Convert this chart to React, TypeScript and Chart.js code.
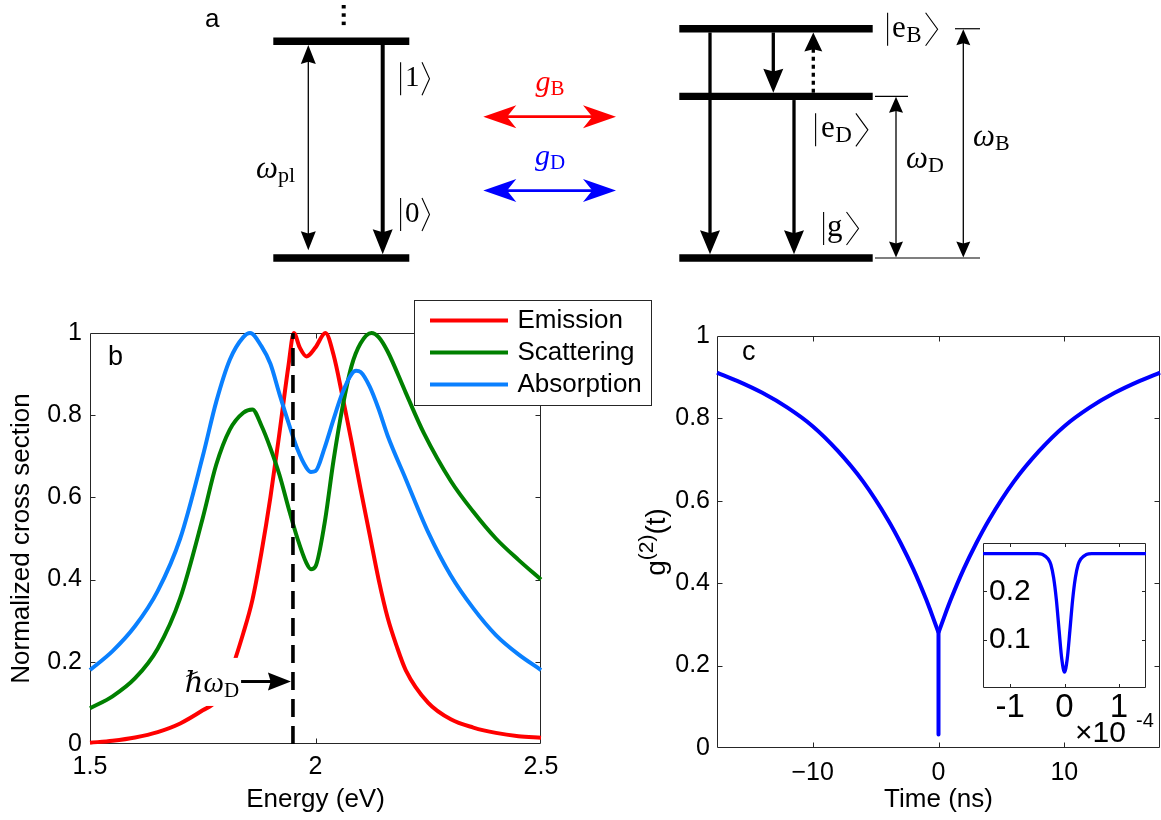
import React, { useEffect, useRef } from 'react';
import { Chart, registerables } from 'chart.js';

Chart.register(...registerables);

const SANS = '"Liberation Sans", Arial, Helvetica, sans-serif';
const SERIF = '"Liberation Serif", "DejaVu Serif", "Times New Roman", serif';
const FRAME = '#262626';

// ---------------- Panel a : level scheme (energies in units of ħω_pl) ----------------
const plasmonLevelEnergy = [0, 1]; // |0>, |1>
const emitterLevelEnergy = [0, 0.746, 1.058]; // |g>, |e_D>, |e_B>

// ---------------- Panel b : normalized cross sections ----------------
const seriesNames = ['Emission', 'Scattering', 'Absorption'];
const seriesColors = ['#ff0000', '#008000', '#0a80ff'];
const energyTicks = [1.5, 2, 2.5];
const crossSectionTicks = [0, 0.2, 0.4, 0.6, 0.8, 1];
const emissionEnergy = [1.5, 1.55, 1.6, 1.65, 1.7, 1.75, 1.78, 1.81, 1.84, 1.86, 1.88, 1.9, 1.92, 1.94, 1.952, 1.965, 1.98, 2.0, 2.022, 2.04, 2.06, 2.08, 2.1, 2.12, 2.14, 2.16, 2.18, 2.2, 2.25, 2.3, 2.35, 2.4, 2.45, 2.5];
const emissionValue = [0.003, 0.008, 0.016, 0.029, 0.05, 0.082, 0.105, 0.17, 0.27, 0.35, 0.465, 0.6, 0.756, 0.92, 1.0, 0.965, 0.943, 0.965, 1.0, 0.947, 0.845, 0.735, 0.62, 0.51, 0.4, 0.307, 0.238, 0.18, 0.1, 0.06, 0.04, 0.027, 0.019, 0.015];
const scatteringEnergy = [1.5, 1.55, 1.6, 1.65, 1.7, 1.75, 1.78, 1.81, 1.84, 1.86, 1.88, 1.9, 1.92, 1.94, 1.96, 1.98, 1.99, 2.0, 2.02, 2.04, 2.06, 2.08, 2.1, 2.124, 2.14, 2.16, 2.2, 2.24, 2.3, 2.35, 2.4, 2.45, 2.5];
const scatteringValue = [0.087, 0.116, 0.16, 0.232, 0.355, 0.55, 0.68, 0.765, 0.806, 0.814, 0.775, 0.72, 0.655, 0.575, 0.5, 0.44, 0.425, 0.432, 0.536, 0.69, 0.82, 0.92, 0.975, 1.0, 0.99, 0.955, 0.855, 0.757, 0.64, 0.565, 0.5, 0.448, 0.4];
const absorptionEnergy = [1.5, 1.55, 1.6, 1.65, 1.7, 1.75, 1.78, 1.81, 1.84, 1.855, 1.88, 1.9, 1.92, 1.94, 1.96, 1.98, 1.99, 2.0, 2.02, 2.04, 2.06, 2.08, 2.09, 2.1, 2.12, 2.14, 2.16, 2.2, 2.25, 2.3, 2.35, 2.4, 2.45, 2.5];
const absorptionValue = [0.18, 0.226, 0.287, 0.372, 0.5, 0.7, 0.833, 0.935, 0.99, 1.0, 0.968, 0.925, 0.852, 0.782, 0.717, 0.672, 0.662, 0.664, 0.72, 0.79, 0.855, 0.9, 0.908, 0.905, 0.87, 0.815, 0.75, 0.645, 0.515, 0.41, 0.33, 0.265, 0.218, 0.18];
const darkModeEnergy = 1.95; // ħω_D
const darkModeArrowLevel = 0.152;

// ---------------- Panel c : g2(t) ----------------
const timeTicks = [-10, 0, 10];
const g2Ticks = [0, 0.2, 0.4, 0.6, 0.8, 1];
const timeNegative = [-17.6, -16, -14, -12, -10, -8, -6, -4, -3, -2, -1, -0.5, 0];
const g2Negative = [0.911, 0.891, 0.862, 0.826, 0.781, 0.721, 0.647, 0.553, 0.497, 0.434, 0.362, 0.322, 0.28];
const timePositive = [0, 0.5, 1, 2, 3, 4, 6, 8, 10, 12, 14, 16, 17.6];
const g2Positive = [0.28, 0.322, 0.362, 0.434, 0.497, 0.553, 0.647, 0.721, 0.781, 0.826, 0.862, 0.891, 0.911];
const g2AtZero = [0.28, 0.033];
// inset (time in units of 1e-4 ns)
const insetTime = [-1.5, -0.8, -0.5, -0.4, -0.3, -0.25, -0.2, -0.15, -0.1, -0.05, 0, 0.05, 0.1, 0.15, 0.2, 0.25, 0.3, 0.4, 0.5, 0.8, 1.5];
const insetG2 = [0.278, 0.278, 0.278, 0.276, 0.267, 0.255, 0.228, 0.183, 0.12, 0.06, 0.033, 0.06, 0.12, 0.183, 0.228, 0.255, 0.267, 0.276, 0.278, 0.278, 0.278];
const insetTimeTicks = [-1, 0, 1];
const insetG2Ticks = [0.1, 0.2];

const zip = (xs: number[], ys: number[]) => xs.map((x, i) => ({ x, y: ys[i] }));

// ---------------- drawing helpers ----------------
type Run = { t: string; font: string; dy?: number; color?: string; gap?: number };

function measureRuns(ctx: CanvasRenderingContext2D, runs: Run[]) {
  let w = 0;
  for (const r of runs) {
    ctx.font = r.font;
    w += ctx.measureText(r.t).width + (r.gap || 0);
  }
  return w;
}
function drawRuns(ctx: CanvasRenderingContext2D, runs: Run[], x: number, y: number, align = 'left') {
  const w = measureRuns(ctx, runs);
  let cx = align === 'left' ? x : align === 'center' ? x - w / 2 : x - w;
  ctx.textAlign = 'left';
  ctx.textBaseline = 'alphabetic';
  for (const r of runs) {
    ctx.font = r.font;
    ctx.fillStyle = r.color || '#000';
    ctx.fillText(r.t, cx, y + (r.dy || 0));
    cx += ctx.measureText(r.t).width + (r.gap || 0);
  }
  return w;
}
function drawKet(ctx: CanvasRenderingContext2D, runs: Run[], x: number, baseline: number, padL = 5, padR = 2.5, aw = 7.5) {
  const top = baseline - 24, bottom = baseline + 9;
  ctx.strokeStyle = '#000';
  ctx.lineWidth = 1.1;
  ctx.beginPath();
  ctx.moveTo(x + 0.6, top);
  ctx.lineTo(x + 0.6, bottom);
  ctx.stroke();
  const w = drawRuns(ctx, runs, x + padL, baseline, 'left');
  const ax = x + padL + w + padR;
  ctx.beginPath();
  ctx.moveTo(ax, top);
  ctx.lineTo(ax + aw, (top + bottom) / 2);
  ctx.lineTo(ax, bottom);
  ctx.stroke();
}
type ArrowOpt = { w: number; len: number; hw: number; color?: string; both?: boolean; dash?: number[]; notch?: number };
function head(ctx: CanvasRenderingContext2D, tx: number, ty: number, ux: number, uy: number, o: ArrowOpt) {
  const nx = -uy, ny = ux;
  const notch = o.notch ?? 0.12;
  const bx = tx - ux * o.len, by = ty - uy * o.len;
  const mx = tx - ux * o.len * (1 - notch), my = ty - uy * o.len * (1 - notch);
  ctx.fillStyle = o.color || '#000';
  ctx.beginPath();
  ctx.moveTo(tx, ty);
  ctx.lineTo(bx + (nx * o.hw) / 2, by + (ny * o.hw) / 2);
  ctx.lineTo(mx, my);
  ctx.lineTo(bx - (nx * o.hw) / 2, by - (ny * o.hw) / 2);
  ctx.closePath();
  ctx.fill();
}
function drawArrow(ctx: CanvasRenderingContext2D, x1: number, y1: number, x2: number, y2: number, o: ArrowOpt) {
  const dx = x2 - x1, dy = y2 - y1, L = Math.hypot(dx, dy);
  const ux = dx / L, uy = dy / L;
  const back = o.len * (1 - (o.notch ?? 0.12)) - 1;
  const sx = o.both ? x1 + ux * back : x1, sy = o.both ? y1 + uy * back : y1;
  const ex = x2 - ux * back, ey = y2 - uy * back;
  ctx.strokeStyle = o.color || '#000';
  ctx.lineWidth = o.w;
  ctx.lineCap = 'butt';
  ctx.setLineDash(o.dash || []);
  ctx.beginPath();
  ctx.moveTo(sx, sy);
  ctx.lineTo(ex, ey);
  ctx.stroke();
  ctx.setLineDash([]);
  head(ctx, x2, y2, ux, uy, o);
  if (o.both) head(ctx, x1, y1, -ux, -uy, o);
}

// frame with inward ticks on all four sides (Matlab "box on")
const frameTicksPlugin = {
  id: 'frameTicks',
  beforeDatasetsDraw(chart: any, _a: any, opts: any) {
    const { ctx, chartArea: a, scales } = chart;
    ctx.save();
    ctx.strokeStyle = FRAME;
    ctx.lineWidth = 1;
    const L = Math.round(a.left) + 0.5, R = Math.round(a.right) - 0.5;
    const T = Math.round(a.top) + 0.5, B = Math.round(a.bottom) - 0.5;
    ctx.beginPath();
    ctx.rect(L, T, R - L, B - T);
    for (const v of opts.xTicks || []) {
      const p = Math.round(scales.x.getPixelForValue(v)) + 0.5;
      if (p <= L + 1 || p >= R - 1) continue;
      ctx.moveTo(p, B); ctx.lineTo(p, B - opts.len);
      ctx.moveTo(p, T); ctx.lineTo(p, T + opts.len);
    }
    for (const v of opts.yTicks || []) {
      const p = Math.round(scales.y.getPixelForValue(v)) + 0.5;
      if (p <= T + 1 || p >= B - 1) continue;
      ctx.moveTo(L, p); ctx.lineTo(L + opts.len, p);
      ctx.moveTo(R, p); ctx.lineTo(R - opts.len, p);
    }
    ctx.stroke();
    ctx.restore();
  },
};

const fixedTicks = (vals: number[]) => (s: any) => {
  s.ticks = vals.map((v) => ({ value: v }));
};
const fmtDec = (v: number) => (v === 0 ? '0' : v === 1 ? '1' : v.toFixed(1));
const noGrid = { display: false, drawTicks: false };

// ---------------- Panel a config ----------------
function makeDiagram() {
  const [P0, P1] = plasmonLevelEnergy;
  const [Eg, EeD, EeB] = emitterLevelEnergy;
  const PL = [273.3, 409.3];
  const EM = [679.3, 872.7];
  const seg = (x0: number, x1: number, e: number, w: number) => ({
    data: [{ x: x0, y: e }, { x: x1, y: e }],
    borderColor: '#000',
    borderWidth: w,
    pointRadius: 0,
    borderCapStyle: 'butt',
  });
  const datasets = [
    ...plasmonLevelEnergy.map((e) => seg(PL[0], PL[1], e, 7.4)),
    ...emitterLevelEnergy.map((e) => seg(EM[0], EM[1], e, 7.4)),
    seg(875, 908, EeD, 1.2),
    seg(875, 980, Eg, 1.2),
    seg(955, 980, EeB, 1.2),
  ];
  const plugin = {
    id: 'diagram',
    afterDatasetsDraw(chart: any) {
      const { ctx } = chart;
      const X = (v: number) => chart.scales.x.getPixelForValue(v);
      const Y = (v: number) => chart.scales.y.getPixelForValue(v);
      ctx.save();
      const half = 3.7;
      const vArrows = [
        { x: 308.3, from: P1, to: P0, ins: [half, half + 4], o: { w: 1.3, len: 19, hw: 15, both: true } },
        { x: 382.7, from: P1, to: P0, ins: [half, half], o: { w: 4, len: 25, hw: 20 } },
        { x: 710, from: EeB, to: Eg, ins: [half, half], o: { w: 3.3, len: 24, hw: 20 } },
        { x: 773.3, from: EeB, to: EeD, ins: [half, half], o: { w: 3.3, len: 24, hw: 20 } },
        { x: 794, from: EeD, to: Eg, ins: [half, half], o: { w: 3.3, len: 24, hw: 20 } },
        { x: 813.3, from: EeD, to: EeB, ins: [half, half], o: { w: 3.3, len: 19, hw: 18, dash: [4, 4] } },
        { x: 896, from: EeD, to: Eg, ins: [0.5, 0.5], o: { w: 1.3, len: 16, hw: 14, both: true } },
        { x: 963.3, from: EeB, to: Eg, ins: [0.5, 0.5], o: { w: 1.3, len: 16, hw: 14, both: true } },
      ];
      for (const a of vArrows) {
        const y1 = Y(a.from), y2 = Y(a.to);
        const d = Math.sign(y2 - y1);
        drawArrow(ctx, X(a.x), y1 + d * a.ins[0], X(a.x), y2 - d * a.ins[1], a.o as ArrowOpt);
      }
      // coupling arrows
      const rows = [
        { e: 0.652, color: '#ff0000', sub: 'B' },
        { e: 0.311, color: '#0000ff', sub: 'D' },
      ];
      for (const r of rows) {
        const yy = Y(r.e);
        drawArrow(ctx, X(483.3), yy, X(616), yy, { w: 2.8, len: 33, hw: 23, both: true, color: r.color, notch: 0.28 });
        drawRuns(ctx, [
          { t: 'g', font: `italic 30px ${SERIF}`, color: r.color },
          { t: r.sub, font: `21px ${SERIF}`, color: r.color, dy: 4 },
        ], X(550), yy - 26, 'center');
      }
      // ω labels
      drawRuns(ctx, [
        { t: 'ω', font: `italic 31px ${SERIF}` },
        { t: 'pl', font: `22px ${SERIF}`, dy: 4 },
      ], X(256), 178, 'left');
      drawRuns(ctx, [
        { t: 'ω', font: `italic 31px ${SERIF}` },
        { t: 'D', font: `22px ${SERIF}`, dy: 4 },
      ], X(906), 168, 'left');
      drawRuns(ctx, [
        { t: 'ω', font: `italic 31px ${SERIF}` },
        { t: 'B', font: `22px ${SERIF}`, dy: 4 },
      ], X(973), 146, 'left');
      // kets
      const k = `29px ${SERIF}`;
      const kb = `31px ${SERIF}`;
      const ks = `23px ${SERIF}`;
      drawKet(ctx, [{ t: '1', font: k }], X(400), Y(P1) + 45);
      drawKet(ctx, [{ t: '0', font: k }], X(400), Y(P0) - 36);
      drawKet(ctx, [{ t: 'e', font: kb, gap: 0.5 }, { t: 'B', font: ks, dy: 5 }], X(887), Y(EeB) + 8, 5, 4, 12);
      drawKet(ctx, [{ t: 'e', font: kb, gap: 0.5 }, { t: 'D', font: ks, dy: 5 }], X(815), Y(EeD) + 41, 6, 4, 12);
      drawKet(ctx, [{ t: 'g', font: kb }], X(823), Y(Eg) - 22, 4, 4, 12);
      // vertical ellipsis above |1>
      ctx.fillStyle = '#000';
      for (const dyy of [6.7, 15, 23.3]) ctx.fillRect(X(341.7), dyy - 1.7, 4, 3.5);
      // panel label
      ctx.font = `26px ${SANS}`;
      ctx.textBaseline = 'alphabetic';
      ctx.fillText('a', X(205), 26.5);
      ctx.restore();
    },
  };
  return {
    type: 'line',
    data: { datasets },
    options: {
      responsive: false,
      animation: false,
      devicePixelRatio: 1,
      layout: { padding: 0 },
      plugins: { legend: { display: false }, tooltip: { enabled: false } },
      scales: {
        x: { type: 'linear', display: false, min: 0, max: 1161 },
        y: { type: 'linear', display: false, min: -0.1477, max: 1.1906 },
      },
    },
    plugins: [plugin],
  };
}

// ---------------- Panel b config ----------------
function makeSpectra() {
  const curve = (i: number, xs: number[], ys: number[]) => ({
    label: seriesNames[i],
    data: zip(xs, ys),
    borderColor: seriesColors[i],
    borderWidth: 4,
    pointRadius: 0,
    cubicInterpolationMode: 'monotone',
    clip: false,
  });
  const plugin = {
    id: 'spectraDecor',
    afterDatasetsDraw(chart: any) {
      const { ctx, scales } = chart;
      const X = (v: number) => scales.x.getPixelForValue(v);
      const Y = (v: number) => scales.y.getPixelForValue(v);
      ctx.save();
      // white background of the ħω_D annotation
      ctx.fillStyle = '#fff';
      ctx.fillRect(X(1.678), Y(0.2095), X(1.829) - X(1.678), Y(0.0926) - Y(0.2095));
      const ay = Y(darkModeArrowLevel);
      const ax0 = X(1.835);
      drawArrow(ctx, ax0, ay, X(darkModeEnergy) - 2, ay, { w: 3, len: 23, hw: 18 });
      drawRuns(ctx, [
        { t: 'ℏω', font: `italic 29px ${SERIF}` },
        { t: 'D', font: `21px ${SERIF}`, dy: 5 },
      ], ax0 - 2, ay + 10, 'right');
      ctx.restore();
    },
    afterDraw(chart: any) {
      const { ctx, chartArea: a } = chart;
      ctx.save();
      // legend
      const lx = Math.round(a.left + 323.5) + 0.5, ly = Math.round(a.top - 33.5) + 0.5;
      ctx.fillStyle = '#fff';
      ctx.fillRect(lx, ly, 237, 105);
      ctx.strokeStyle = FRAME;
      ctx.lineWidth = 1;
      ctx.strokeRect(lx, ly, 237, 105);
      seriesNames.forEach((name, i) => {
        const yy = ly + 20 + i * 32;
        ctx.strokeStyle = seriesColors[i];
        ctx.lineWidth = 4;
        ctx.beginPath();
        ctx.moveTo(lx + 15.5, yy);
        ctx.lineTo(lx + 93.5, yy);
        ctx.stroke();
        ctx.fillStyle = '#000';
        ctx.font = `26px ${SANS}`;
        ctx.textBaseline = 'middle';
        ctx.textAlign = 'left';
        ctx.fillText(name, lx + 103, yy);
      });
      ctx.font = `27px ${SANS}`;
      ctx.textBaseline = 'alphabetic';
      ctx.fillStyle = '#000';
      ctx.fillText('b', a.left + 18, a.top + 32);
      ctx.restore();
    },
  };
  return {
    type: 'line',
    data: {
      datasets: [
        {
          label: 'marker',
          data: [{ x: darkModeEnergy, y: 0 }, { x: darkModeEnergy, y: 1 }],
          borderColor: '#000',
          borderWidth: 3.6,
          borderDash: [18, 9],
          pointRadius: 0,
          clip: false,
        },
        curve(2, absorptionEnergy, absorptionValue),
        curve(1, scatteringEnergy, scatteringValue),
        curve(0, emissionEnergy, emissionValue),
      ],
    },
    options: {
      responsive: false,
      animation: false,
      devicePixelRatio: 1,
      layout: { padding: { left: 0, right: 119, top: 43, bottom: 0 } },
      plugins: {
        legend: { display: false },
        tooltip: { enabled: false },
        frameTicks: { xTicks: energyTicks, yTicks: crossSectionTicks, len: 5 },
      },
      scales: {
        x: {
          type: 'linear',
          min: 1.5,
          max: 2.5,
          afterBuildTicks: fixedTicks(energyTicks),
          afterFit: (s: any) => { s.height = 76; s.paddingLeft = 0; s.paddingRight = 0; },
          grid: noGrid,
          border: { display: false },
          ticks: { color: '#000', font: { family: SANS, size: 25 }, padding: 8, maxRotation: 0, autoSkip: false, callback: (v: number) => String(v) },
          title: { display: true, text: 'Energy (eV)', color: '#000', font: { family: SANS, size: 26 }, padding: { top: 0, bottom: 5 } },
        },
        y: {
          type: 'linear',
          min: 0,
          max: 1,
          afterBuildTicks: fixedTicks(crossSectionTicks),
          afterFit: (s: any) => { s.width = 90; s.paddingTop = 0; s.paddingBottom = 0; },
          grid: noGrid,
          border: { display: false },
          ticks: { color: '#000', font: { family: SANS, size: 25 }, padding: 8, autoSkip: false, callback: (v: number) => fmtDec(v) },
          title: { display: true, text: 'Normalized cross section', color: '#000', font: { family: SANS, size: 26 }, padding: { top: 6, bottom: 0 } },
        },
      },
    },
    plugins: [frameTicksPlugin, plugin],
  };
}

// ---------------- Panel c config ----------------
function makeG2() {
  const blue = (data: any[], extra: any = {}) => ({
    data,
    borderColor: '#0000ff',
    borderWidth: 4,
    pointRadius: 0,
    clip: false,
    ...extra,
  });
  const plugin = {
    id: 'g2Decor',
    afterDraw(chart: any) {
      const { ctx, chartArea: a } = chart;
      ctx.save();
      ctx.fillStyle = '#000';
      ctx.font = `27px ${SANS}`;
      ctx.textBaseline = 'alphabetic';
      ctx.fillText('c', a.left + 25, a.top + 24);
      ctx.translate(a.left - 60, (a.top + a.bottom) / 2);
      ctx.rotate(-Math.PI / 2);
      drawRuns(ctx, [
        { t: 'g', font: `28px ${SANS}` },
        { t: '(2)', font: `21px ${SANS}`, dy: -12 },
        { t: '(t)', font: `28px ${SANS}` },
      ], 0, 8, 'center');
      ctx.restore();
    },
  };
  return {
    type: 'line',
    data: {
      datasets: [
        blue(zip(timeNegative, g2Negative), { cubicInterpolationMode: 'monotone' }),
        blue(zip(timePositive, g2Positive), { cubicInterpolationMode: 'monotone' }),
        blue([{ x: 0, y: g2AtZero[0] }, { x: 0, y: g2AtZero[1] }], { borderCapStyle: 'round' }),
      ],
    },
    options: {
      responsive: false,
      animation: false,
      devicePixelRatio: 1,
      layout: { padding: { left: 0, right: 1, top: 46, bottom: 0 } },
      plugins: {
        legend: { display: false },
        tooltip: { enabled: false },
        frameTicks: { xTicks: timeTicks, yTicks: g2Ticks, len: 5 },
      },
      scales: {
        x: {
          type: 'linear',
          min: -17.6,
          max: 17.6,
          afterBuildTicks: fixedTicks(timeTicks),
          afterFit: (s: any) => { s.height = 72; s.paddingLeft = 0; s.paddingRight = 0; },
          grid: noGrid,
          border: { display: false },
          ticks: { color: '#000', font: { family: SANS, size: 25 }, padding: 10, maxRotation: 0, autoSkip: false, callback: (v: number) => (v < 0 ? '\u2212' + Math.abs(v) : String(v)) },
          title: { display: true, text: 'Time (ns)', color: '#000', font: { family: SANS, size: 26 }, padding: { top: 0, bottom: 5 } },
        },
        y: {
          type: 'linear',
          min: 0,
          max: 1,
          afterBuildTicks: fixedTicks(g2Ticks),
          afterFit: (s: any) => { s.width = 87; s.paddingTop = 0; s.paddingBottom = 0; },
          grid: noGrid,
          border: { display: false },
          ticks: { color: '#000', font: { family: SANS, size: 25 }, padding: 7, autoSkip: false, callback: (v: number) => fmtDec(v) },
        },
      },
    },
    plugins: [frameTicksPlugin, plugin],
  };
}

// ---------------- Inset config ----------------
function makeInset() {
  const plugin = {
    id: 'insetDecor',
    beforeDraw(chart: any) {
      const { ctx, chartArea: a } = chart;
      ctx.save();
      ctx.fillStyle = '#fff';
      ctx.fillRect(a.left, a.top, a.right - a.left, a.bottom - a.top);
      ctx.restore();
    },
    afterDraw(chart: any) {
      const { ctx, chartArea: a } = chart;
      ctx.save();
      drawRuns(ctx, [{ t: '×10', font: `30px ${SANS}` }], a.left + 92, a.bottom + 54, 'left');
      drawRuns(ctx, [{ t: '-4', font: `20px ${SANS}` }], a.left + 153, a.bottom + 39, 'left');
      ctx.restore();
    },
  };
  return {
    type: 'line',
    data: {
      datasets: [
        {
          data: zip(insetTime, insetG2),
          borderColor: '#0000ff',
          borderWidth: 3.3,
          pointRadius: 0,
          cubicInterpolationMode: 'monotone',
          clip: false,
        },
      ],
    },
    options: {
      responsive: false,
      animation: false,
      devicePixelRatio: 1,
      layout: { padding: { left: 0, right: 15, top: 23, bottom: 0 } },
      plugins: {
        legend: { display: false },
        tooltip: { enabled: false },
        frameTicks: { xTicks: insetTimeTicks, yTicks: insetG2Ticks, len: 3.5 },
      },
      scales: {
        x: {
          type: 'linear',
          min: -1.5,
          max: 1.5,
          afterBuildTicks: fixedTicks(insetTimeTicks),
          afterFit: (s: any) => { s.height = 62; s.paddingLeft = 0; s.paddingRight = 0; },
          grid: noGrid,
          border: { display: false },
          ticks: { color: '#000', font: { family: SANS, size: 33 }, padding: 0, maxRotation: 0, autoSkip: false, callback: (v: number) => String(v) },
        },
        y: {
          type: 'linear',
          min: 0,
          max: 0.3,
          afterBuildTicks: fixedTicks(insetG2Ticks),
          afterFit: (s: any) => { s.width = 23; s.paddingTop = 0; s.paddingBottom = 0; },
          grid: noGrid,
          border: { display: false },
          ticks: { color: '#000', font: { family: SANS, size: 30 }, mirror: true, padding: 6, autoSkip: false, callback: (v: number) => v.toFixed(1) },
        },
      },
    },
    plugins: [frameTicksPlugin, plugin],
  };
}

function useChart(make: () => any) {
  const ref = useRef<HTMLCanvasElement>(null);
  useEffect(() => {
    if (!ref.current) return;
    const chart = new Chart(ref.current, make());
    return () => chart.destroy();
  }, []);
  return ref;
}

export default function App() {
  const aRef = useChart(makeDiagram);
  const bRef = useChart(makeSpectra);
  const cRef = useChart(makeG2);
  const iRef = useChart(makeInset);
  const abs = (l: number, t: number, w: number, h: number) => ({ position: 'absolute' as const, left: l, top: t, width: w, height: h });
  return (
    <div style={{ position: 'absolute', left: 0, top: 0, width: 1161, height: 820, background: '#fff', overflow: 'hidden' }}>
      <canvas ref={aRef} width={1161} height={290} style={abs(0, 0, 1161, 290)} />
      <canvas ref={bRef} width={660} height={530} style={abs(0, 290, 660, 530)} />
      <canvas ref={cRef} width={531} height={530} style={abs(630, 290, 531, 530)} />
      <canvas ref={iRef} width={201} height={230} style={abs(960, 520, 201, 230)} />
    </div>
  );
}
